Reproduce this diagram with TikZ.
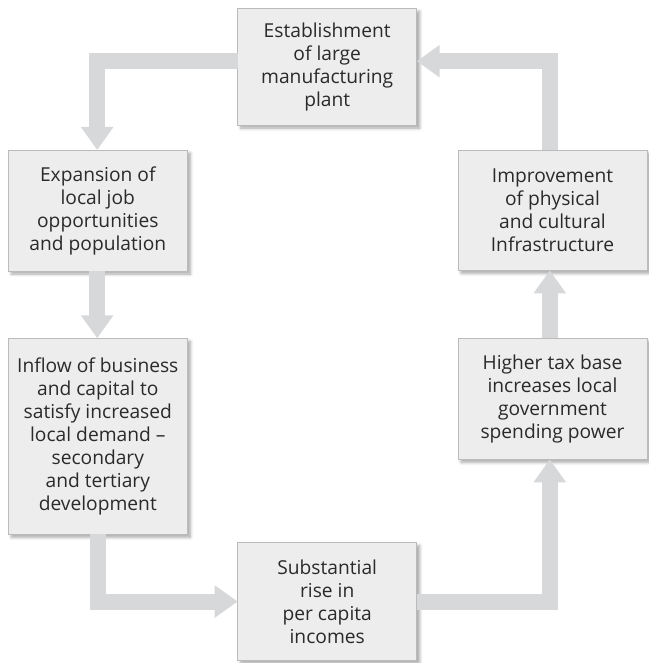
\documentclass[tikz,border=0pt]{standalone}
\usepackage{fontspec}
\setmainfont{Open Sans}
\usetikzlibrary{arrows.meta,shadows.blur}
\definecolor{boxfill}{HTML}{EDEDED}
\definecolor{boxline}{HTML}{BBBBBB}
\definecolor{arrowgray}{HTML}{D7D8DA}
\definecolor{txt}{HTML}{2A2A2A}
\tikzset{
  box/.style={draw=boxline, line width=0.9pt, fill=boxfill, inner sep=0pt, outer sep=0pt,
    align=center, text=txt, font=\fontsize{19.2pt}{23pt}\selectfont,
    blur shadow={shadow xshift=3pt, shadow yshift=-3pt, shadow blur steps=6, shadow opacity=35, shadow blur radius=3pt}},
  flow/.style={draw=arrowgray, line width=16pt, line join=miter,
    -{Triangle[width=31pt,length=23pt]}}
}
\begin{document}
\begin{tikzpicture}[x=1pt,y=-1pt]
\useasboundingbox (0,0) rectangle (648,663);
\node[box, minimum width=179pt, minimum height=116.7pt] (top) at (327.2,66.7)
  {Establishment\\of large\\manufacturing\\plant};
\node[box, minimum width=179pt, minimum height=121pt] (exp) at (97.8,210.5)
  {Expansion of\\local job\\opportunities\\and population};
\node[box, minimum width=179pt, minimum height=196pt] (inf) at (97.8,436.3)
  {Inflow of business\\and capital to\\satisfy increased\\local demand –\\secondary\\and tertiary\\development};
\node[box, minimum width=179pt, minimum height=117.6pt] (sub) at (327.2,601.5)
  {Substantial\\rise in\\per capita\\incomes};
\node[box, minimum width=189pt, minimum height=121pt] (tax) at (552.5,398.8)
  {Higher tax base\\increases local\\government\\spending power};
\node[box, minimum width=189pt, minimum height=120.3pt] (imp) at (552.5,210.2)
  {Improvement\\of physical\\and cultural\\Infrastructure};
\coordinate (tl) at (97.2,61.2);
\coordinate (tr) at (549.8,61.2);
\coordinate (bl) at (97.5,601.5);
\coordinate (br) at (549.8,601.5);
\draw[flow] (top.west |- tl) -- (tl) -- (tl |- exp.north);
\draw[flow] (tl |- exp.south) -- (tl |- inf.north);
\draw[flow] (bl |- inf.south) -- (bl) -- (sub.west);
\draw[flow] (sub.east) -- (br) -- (br |- tax.south);
\draw[flow] (br |- tax.north) -- (br |- imp.south);
\draw[flow] (br |- imp.north) -- (tr) -- (top.east |- tr);
\end{tikzpicture}
\end{document}
